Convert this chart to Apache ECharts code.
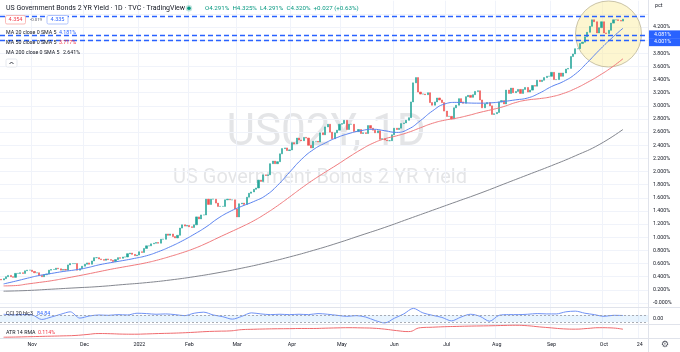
<!DOCTYPE html>
<html>
<head>
<meta charset="utf-8">
<script src="https://cdn.jsdelivr.net/npm/echarts@6.0.0/dist/echarts.min.js"></script>
<style>
  html, body { margin: 0; padding: 0; background: #fff; }
  #chart { width: 680px; height: 352px; }
</style>
</head>
<body>
<div id="chart"></div>
<script>
// daily closes, one per weekday from 2021-10-13
const closes = [
  0.35,0.37,0.40,0.42,0.40,0.39,0.45,0.45,0.46,0.45,
  0.49,0.50,0.50,0.48,0.46,0.46,0.42,0.40,0.43,0.44,
  0.50,0.51,0.51,0.53,0.52,0.50,0.51,0.50,0.58,0.60,
  0.60,0.60,0.50,0.52,0.56,0.59,0.61,0.59,0.64,0.69,
  0.69,0.67,0.66,0.65,0.67,0.66,0.65,0.63,0.66,0.69,
  0.68,0.70,0.70,0.75,0.76,0.74,0.72,0.73,0.78,0.77,
  0.83,0.87,0.87,0.90,0.91,0.92,0.91,0.97,0.97,1.05,
  1.03,1.05,1.01,0.99,1.03,1.14,1.19,1.17,1.18,1.16,
  1.15,1.19,1.31,1.28,1.34,1.34,1.58,1.50,1.58,1.58,
  1.52,1.47,1.47,1.47,1.57,1.58,1.57,1.57,1.43,1.31,
  1.51,1.52,1.50,1.61,1.67,1.69,1.73,1.75,1.87,1.85,
  1.95,1.94,1.95,2.12,2.16,2.12,2.15,2.27,2.35,2.36,
  2.32,2.33,2.44,2.42,2.51,2.48,2.47,2.52,2.51,2.40,
  2.36,2.46,2.46,2.45,2.59,2.56,2.68,2.72,2.60,2.50,
  2.59,2.63,2.72,2.73,2.78,2.64,2.72,2.72,2.61,2.61,
  2.64,2.58,2.59,2.58,2.70,2.66,2.63,2.59,2.62,2.49,
  2.50,2.48,2.47,2.47,2.56,2.66,2.64,2.66,2.73,2.74,
  2.78,2.82,3.06,3.35,3.43,3.21,3.18,3.18,3.17,3.20,
  3.05,3.01,3.06,3.12,3.09,3.05,2.92,2.84,2.84,2.80,
  2.97,3.01,3.11,3.06,3.04,3.14,3.16,3.13,3.17,3.22,
  3.23,3.09,2.97,3.03,3.05,3.00,2.87,2.88,2.90,3.06,
  3.08,3.03,3.24,3.19,3.27,3.20,3.22,3.25,3.19,3.25,
  3.28,3.21,3.24,3.31,3.30,3.39,3.37,3.39,3.43,3.45,
  3.45,3.51,3.40,3.40,3.50,3.45,3.50,3.56,3.57,3.75,
  3.79,3.87,3.87,3.95,3.97,4.05,4.12,4.21,4.31,4.28,
  4.11,4.19,4.28,4.11,4.10,4.15,4.26,4.31,4.31,4.30,
  4.29,4.32
];
const firstOpen = 0.36;

// moving averages, every 5th bar from bar 1
const ma20 = [
  0.29,0.332,0.377,0.419,0.449,0.479,0.503,0.536,0.580,0.614,
  0.645,0.679,0.719,0.781,0.857,0.945,1.046,1.157,1.288,1.392,
  1.472,1.544,1.635,1.790,1.988,2.184,2.333,2.435,2.518,2.579,
  2.622,2.644,2.622,2.596,2.647,2.776,2.922,3.027,3.053,3.044,
  3.041,3.047,3.067,3.092,3.120,3.195,3.294,3.371,3.485,3.658,
  3.846,4.022,4.181
];
const ma50 = [
  0.26,0.265,0.289,0.313,0.338,0.370,0.404,0.439,0.476,0.513,
  0.546,0.578,0.613,0.657,0.709,0.765,0.829,0.906,0.992,1.076,
  1.160,1.251,1.359,1.480,1.612,1.747,1.874,1.991,2.104,2.222,
  2.334,2.431,2.499,2.544,2.598,2.667,2.734,2.781,2.812,2.853,
  2.901,2.943,2.990,3.051,3.090,3.110,3.139,3.189,3.263,3.356,
  3.461,3.579,3.717
];
// every 10th bar from bar 1
const ma200 = [
  0.18,0.19,0.21,0.23,0.25,0.28,0.31,0.35,0.40,0.46,
  0.53,0.61,0.70,0.80,0.91,1.03,1.15,1.28,1.41,1.54,
  1.67,1.81,1.95,2.09,2.24,2.41,2.641
];
// CCI 20, every 4th bar from bar 1
const cci = [
  120,100,110,100,-30,40,120,190,10,70,
  100,90,110,100,150,140,120,130,110,80,
  150,180,100,50,-20,60,160,130,110,120,
  110,120,110,140,120,90,60,80,40,-60,
  -130,5,130,290,160,90,30,-70,40,120,
  60,-80,90,110,110,120,140,130,130,190,
  210,150,110,60,90,85
];
// ATR 14, every 5th bar from bar 1
const atr = [
  0.032,0.034,0.037,0.040,0.043,0.046,0.050,0.060,0.070,0.068,
  0.064,0.063,0.066,0.070,0.073,0.077,0.083,0.090,0.094,0.097,
  0.110,0.114,0.117,0.119,0.120,0.122,0.122,0.125,0.128,0.130,
  0.128,0.125,0.115,0.100,0.090,0.130,0.135,0.140,0.143,0.146,
  0.148,0.150,0.153,0.155,0.150,0.138,0.128,0.118,0.115,0.122,
  0.130,0.128,0.114
];

const levels = [4.36, 4.081, 4.001];
const levelLabels = ['', '4.081%', '4.001%'];
const lastPrice = 4.32;
const months = ['Jan','Feb','Mar','Apr','May','Jun','Jul','Aug','Sep','Oct','Nov','Dec'];

// weekday categories, with empty room to the right
const days = [];
for (let d = new Date(Date.UTC(2021, 9, 13)); days.length < 272; d.setUTCDate(d.getUTCDate() + 1)) {
  const wd = d.getUTCDay();
  if (wd === 0 || wd === 6) continue;
  days.push(d.toISOString().slice(0, 10));
}
function isTick(i) {
  if (i <= 0) return false;
  return days[i].slice(5, 7) !== days[i - 1].slice(5, 7) || days[i] === '2022-10-24';
}
function tickText(v) {
  if (v === '2022-10-24') return '24';
  const m = +v.slice(5, 7);
  return m === 1 ? v.slice(0, 4) : months[m - 1];
}

const candles = closes.map((c, i) => {
  const o = i ? closes[i - 1] : firstOpen;
  return [o, c, Math.min(o, c), Math.max(o, c)];
});
const every = (arr, step) => arr.map((v, k) => [1 + step * k, v]);

const UP = '#26a69a', DOWN = '#ef5350', GRIDC = '#f0f3fa', TXT = '#131722';
const F = 'Roboto, sans-serif';

const chart = echarts.init(document.getElementById('chart'));

const xBase = (g, labels) => ({
  type: 'category', gridIndex: g, data: days, boundaryGap: true,
  axisLine: { show: false }, axisTick: { show: false },
  axisLabel: labels ? {
    show: true, interval: isTick, formatter: tickText,
    fontSize: 5.3, color: TXT, fontFamily: F, margin: 4
  } : { show: false },
  splitLine: { show: true, interval: isTick, lineStyle: { color: GRIDC, width: 1 } }
});

function txt(x, y, s, size, color, extra) {
  return Object.assign({
    type: 'text', x: x, y: y, silent: true, z: 100,
    style: { text: s, fontSize: size, fontFamily: F, fill: color, verticalAlign: 'middle' }
  }, extra || {});
}

const option = {
  animation: false,
  backgroundColor: '#fff',
  grid: [
    { left: 0, right: 32, top: 0.73, height: 315.4, outerBoundsMode: 'none' },
    { left: 0, right: 32, top: 308, height: 17.4, outerBoundsMode: 'none' },
    { left: 0, right: 32, top: 323.8, height: 14.6, outerBoundsMode: 'none' }
  ],
  xAxis: [xBase(0, false), xBase(1, false), xBase(2, true)],
  yAxis: [
    {
      type: 'value', gridIndex: 0, position: 'right', min: -0.2, max: 4.6, interval: 0.2,
      axisLine: { show: false }, axisTick: { show: false },
      axisLabel: {
        fontSize: 5.3, color: TXT, fontFamily: F, margin: 5,
        formatter: v => (v < -0.1 || v > 4.3) ? '' : (Math.abs(v) < 1e-9 ? '-0.000%' : v.toFixed(3) + '%')
      },
      splitLine: { show: true, showMinLine: false, showMaxLine: false, lineStyle: { color: GRIDC } }
    },
    {
      type: 'value', gridIndex: 1, position: 'right', min: -200, max: 300, interval: 100,
      axisLine: { show: false }, axisTick: { show: false },
      axisLabel: { fontSize: 5.3, color: TXT, fontFamily: F, margin: 5, formatter: v => v === 0 ? '0.00' : '' },
      splitLine: { show: false }
    },
    {
      type: 'value', gridIndex: 2, position: 'right', min: 0.02, max: 0.17,
      axisLine: { show: false }, axisTick: { show: false },
      axisLabel: { show: false }, splitLine: { show: false }
    }
  ],
  series: [
    {
      name: 'US02Y', type: 'candlestick', xAxisIndex: 0, yAxisIndex: 0, data: candles,
      barWidth: 1.6,
      itemStyle: { color: UP, color0: DOWN, borderColor: UP, borderColor0: DOWN, borderWidth: 0.6 },
      markLine: {
        silent: true, symbol: 'none', animation: false,
        data: levels.map((v, i) => ({
          yAxis: v,
          lineStyle: { color: '#2962ff', width: 1.3, type: [5, 3] },
          label: levelLabels[i] ? {
            show: true, position: 'end', distance: 1, formatter: levelLabels[i],
            backgroundColor: '#2962ff', color: '#fff', fontSize: 5.3, fontFamily: F,
            padding: [1.5, 9, 1.5, 5], offset: [0, i === 2 ? 2 : -0.5]
          } : { show: false }
        })).concat([{
          yAxis: lastPrice,
          lineStyle: { opacity: 0, width: 0 },
          label: {
            show: true, position: 'end', distance: 1, formatter: '13:23:27',
            backgroundColor: '#089981', color: '#fff', fontSize: 5.3, fontFamily: F,
            padding: [2, 7, 2, 5]
          }
        }])
      }
    },
    { name: 'MA20', type: 'line', xAxisIndex: 0, yAxisIndex: 0, data: every(ma20, 5), smooth: true,
      showSymbol: false, lineStyle: { color: '#5b83f0', width: 1 }, z: 3 },
    { name: 'MA50', type: 'line', xAxisIndex: 0, yAxisIndex: 0, data: every(ma50, 5), smooth: true,
      showSymbol: false, lineStyle: { color: '#f07a7d', width: 1 }, z: 3 },
    { name: 'MA200', type: 'line', xAxisIndex: 0, yAxisIndex: 0, data: every(ma200, 10), smooth: true,
      showSymbol: false, lineStyle: { color: '#84878f', width: 1 }, z: 3 },
    {
      name: 'CCI', type: 'line', xAxisIndex: 1, yAxisIndex: 1, data: every(cci, 4), smooth: 0.3,
      showSymbol: false, lineStyle: { color: '#6f92f5', width: 1 },
      markArea: { silent: true, itemStyle: { color: 'rgba(33,150,243,0.10)' }, data: [[{ yAxis: 100 }, { yAxis: -100 }]] },
      markLine: { silent: true, symbol: 'none', label: { show: false },
        lineStyle: { color: '#9598a1', width: 0.8, type: [2, 2] }, data: [{ yAxis: 100 }, { yAxis: -100 }] }
    },
    {
      name: 'ATR', type: 'line', xAxisIndex: 2, yAxisIndex: 2, data: every(atr, 5), smooth: true,
      showSymbol: false, lineStyle: { color: '#ef6a6e', width: 1 }
    }
  ],
  graphic: [
    // watermark
    { type: 'text', x: 326, y: 134, silent: true, z: 0,
      style: { text: 'US02Y, 1D', fontSize: 44, fontFamily: F, fill: 'rgba(120,123,134,0.2)', align: 'center', verticalAlign: 'middle' } },
    { type: 'text', x: 320, y: 178, silent: true, z: 0,
      style: { text: 'US Government Bonds 2 YR Yield', fontSize: 20, fontFamily: F, fill: 'rgba(120,123,134,0.2)', align: 'center', verticalAlign: 'middle' } },
    // highlight circle
    { type: 'circle', shape: { cx: 608.5, cy: 34, r: 33 }, silent: true, z: 1,
      style: { fill: 'rgba(251,236,150,0.45)', stroke: '#bdb596', lineWidth: 0.8 } },
    // pane separators
    { type: 'line', shape: { x1: 0, y1: 307.5, x2: 680, y2: 307.5 }, silent: true, z: 1, style: { stroke: '#e0e3eb', lineWidth: 1 } },
    { type: 'line', shape: { x1: 0, y1: 324.5, x2: 680, y2: 324.5 }, silent: true, z: 1, style: { stroke: '#e0e3eb', lineWidth: 1 } },
    { type: 'line', shape: { x1: 0, y1: 338.5, x2: 680, y2: 338.5 }, silent: true, z: 1, style: { stroke: '#e0e3eb', lineWidth: 1 } },
    { type: 'line', shape: { x1: 648.5, y1: 0, x2: 648.5, y2: 352 }, silent: true, z: 1, style: { stroke: '#e0e3eb', lineWidth: 1 } },
    // legend
    txt(6, 8.3, 'US Government Bonds 2 YR Yield · 1D · TVC · TradingView', 7, TXT),
    { type: 'circle', shape: { cx: 189, cy: 8.3, r: 3.2 }, silent: true, z: 100, style: { fill: 'rgba(8,153,129,0.25)' } },
    { type: 'circle', shape: { cx: 189, cy: 8.3, r: 1.8 }, silent: true, z: 100, style: { fill: '#089981' } },
    txt(205, 8.3, 'O4.291%  H4.325%  L4.291%  C4.320%  +0.027 (+0.63%)', 6.2, '#089981'),
    { type: 'rect', shape: { x: 5.5, y: 15.5, width: 20, height: 8.5, r: 1.5 }, silent: true, z: 100,
      style: { fill: '#fff', stroke: '#f7a9a7', lineWidth: 0.8 } },
    txt(15.5, 19.8, '4.354', 5.5, '#f23645', { style: { text: '4.354', fontSize: 5.5, fontFamily: F, fill: '#f23645', align: 'center', verticalAlign: 'middle' } }),
    txt(36, 19.8, '-0.019', 4.3, '#50535e', { style: { text: '-0.019', fontSize: 4.3, fontFamily: F, fill: '#50535e', align: 'center', verticalAlign: 'middle' } }),
    { type: 'rect', shape: { x: 47, y: 15.5, width: 21, height: 8.5, r: 1.5 }, silent: true, z: 100,
      style: { fill: '#fff', stroke: '#9fb6fb', lineWidth: 0.8 } },
    txt(57.5, 19.8, '4.335', 5.5, '#2962ff', { style: { text: '4.335', fontSize: 5.5, fontFamily: F, fill: '#2962ff', align: 'center', verticalAlign: 'middle' } }),
    txt(6, 32.7, 'MA 20 close 0 SMA 5', 5.3, TXT),
    txt(59, 32.7, '4.181%', 5.3, '#2962ff'),
    txt(6, 42.7, 'MA 50 close 0 SMA 5', 5.3, TXT),
    txt(59, 42.7, '3.717%', 5.3, '#f23645'),
    txt(6, 52.7, 'MA 200 close 0 SMA 5', 5.3, TXT),
    txt(63, 52.7, '2.641%', 5.3, TXT),
    { type: 'rect', shape: { x: 6, y: 59, width: 11, height: 8, r: 1.5 }, silent: true, z: 100,
      style: { fill: '#fff', stroke: '#e0e3eb', lineWidth: 0.8 } },
    { type: 'polyline', shape: { points: [[9.5, 64], [11.5, 62], [13.5, 64]] }, silent: true, z: 100,
      style: { stroke: TXT, lineWidth: 0.8, fill: null } },
    // price scale title
    txt(655, 6, 'pct', 5.3, TXT),
    // indicator legends
    txt(6, 314, 'CCI 20 hlc3', 5.3, TXT),
    txt(37, 314, '84.84', 5.3, '#2962ff'),
    txt(6, 332.5, 'ATR 14 RMA', 5.3, TXT),
    txt(38, 332.5, '0.114%', 5.3, '#f23645'),
    // settings gear
    { type: 'text', x: 665, y: 344.5, silent: true, z: 100,
      style: { text: '⚙', fontSize: 9, fontFamily: 'DejaVu Sans', fill: '#50535e', align: 'center', verticalAlign: 'middle' } }
  ]
};

chart.setOption(option);
window.addEventListener('resize', function () { chart.resize(); });
</script>
</body>
</html>
